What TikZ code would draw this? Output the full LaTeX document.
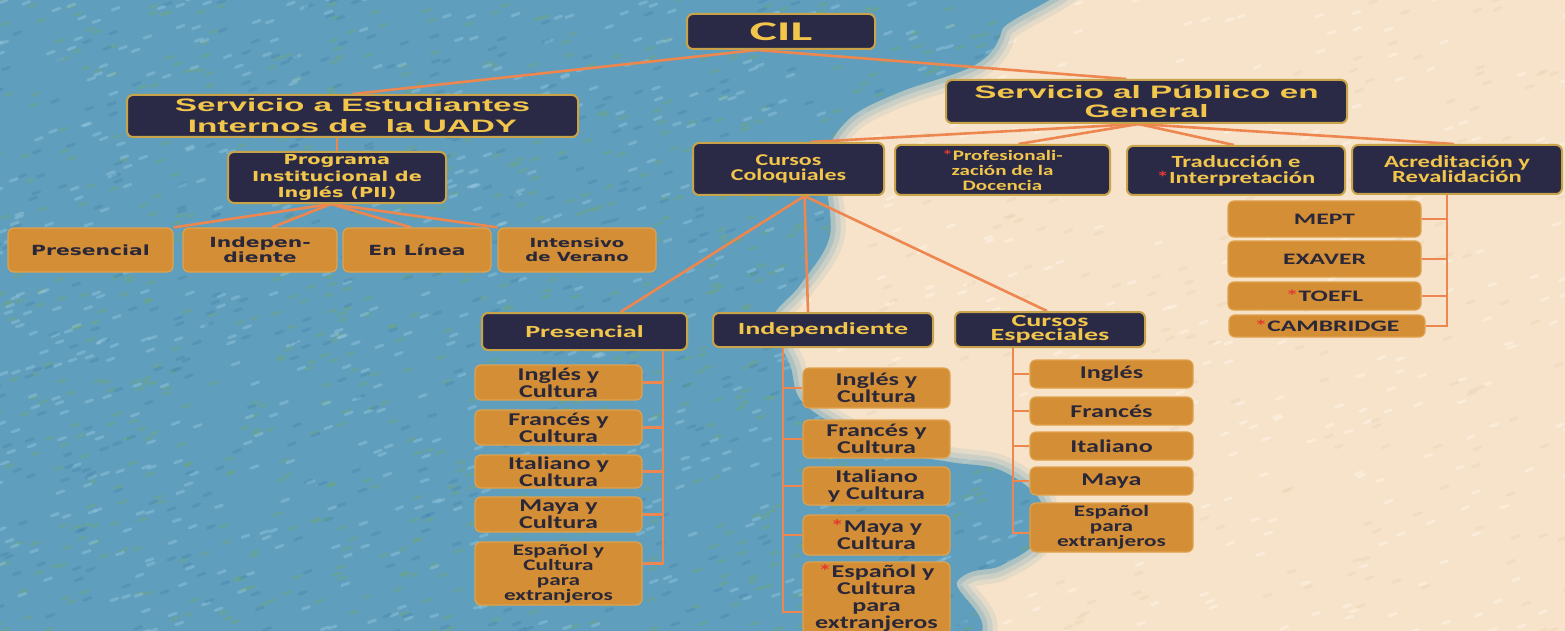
\documentclass[tikz,border=0pt]{standalone}
\usepackage{fontspec}
\setmainfont{Carlito}
\newfontfamily\hdrf[FakeStretch=1.85]{Liberation Sans}
\newfontfamily\cilf[FakeStretch=1.9]{Carlito}
\newfontfamily\piif[FakeStretch=1.4]{DejaVu Sans}
\newfontfamily\lvtwo[FakeStretch=1.45]{Carlito}
\newfontfamily\lvthree[FakeStretch=1.65]{Carlito}
\newfontfamily\orf[FakeStretch=1.45]{Carlito}
\newfontfamily\acf[FakeStretch=1.6]{Carlito}
\newfontfamily\lrow[FakeStretch=1.45]{DejaVu Sans}
\usetikzlibrary{calc}
\pgfdeclarelayer{back}
\pgfdeclarelayer{lines}
\pgfsetlayers{back,lines,main}
\definecolor{navy}{HTML}{2B2A46}
\definecolor{goldb}{HTML}{C9A349}
\definecolor{goldt}{HTML}{F2C64B}
\definecolor{orfill}{HTML}{D48E36}
\definecolor{ordraw}{HTML}{E0A24E}
\definecolor{ortext}{HTML}{2A2838}
\definecolor{linec}{HTML}{EE8650}
\definecolor{bluebg}{HTML}{5F9EBC}
\definecolor{greens}{HTML}{6FA878}
\definecolor{lightb}{HTML}{9CCBE2}
\definecolor{darkb}{HTML}{3F7FA8}
\definecolor{creambg}{HTML}{F6E3CA}
\definecolor{creaml}{HTML}{FFF5E6}
\definecolor{creamd}{HTML}{E8CDAA}
\definecolor{astred}{HTML}{E23A32}
\newcommand{\setfs}[2]{\fontsize{#1}{#2}\selectfont}
\newcommand{\rast}{\textcolor{astred}{*}}
\tikzset{
  navybox/.style={draw=goldb, line width=2pt, fill=navy, rounded corners=6pt,
    text=goldt, align=center, inner sep=0pt},
  orbox/.style={draw=ordraw, line width=1.2pt, fill=orfill, rounded corners=6pt,
    text=ortext, align=center, inner sep=0pt},
  conn/.style={draw=linec, line width=2.6pt},
  bsz/.style 2 args={minimum width=#1pt, minimum height=#2pt},
  hdr/.style={font=\hdrf\bfseries\setfs{18}{21}},
  lv2/.style={font=\lvtwo\bfseries\setfs{17}{16}},
  lv3/.style={font=\lvthree\bfseries\setfs{17}{14.5}},
  orA/.style={font=\orf\bfseries\setfs{18}{17}},
  orB/.style={font=\orf\bfseries\setfs{16}{15}},
  acc/.style={font=\acf\bfseries\setfs{16}{16}},
  lrw/.style={font=\lrow\bfseries\setfs{14}{15}},
  streak/.style={line width=3pt, line cap=round},
}
\begin{document}
\begin{tikzpicture}[x=1pt,y=-1pt]
\useasboundingbox (0,0) rectangle (1565,631);
% background
\begin{pgfonlayer}{back}
\begin{scope}
\clip (0,0) rectangle (1565,631);
\fill[creambg] (0,0) rectangle (1565,631);
\pgfmathsetseed{11}
\foreach \i in {1,...,700}{
  \pgfmathsetmacro{\rx}{rnd*1600-20}
  \pgfmathsetmacro{\ry}{rnd*660-15}
  \draw[streak, creaml, opacity=0.5] (\rx,\ry) -- ++(7,-2.5);
}
\foreach \i in {1,...,450}{
  \pgfmathsetmacro{\rx}{rnd*1600-20}
  \pgfmathsetmacro{\ry}{rnd*660-15}
  \draw[streak, creamd, opacity=0.3] (\rx,\ry) -- ++(7,-2.5);
}
\foreach \w/\o in {30/0.12, 20/0.18, 10/0.25}{
\draw[line width=\w pt, draw=bluebg, opacity=\o]
  plot[smooth cycle, tension=0.55] coordinates {(-50,-50) (1010,-50) (1002,30) (975,65) (900,92) (850,118) (825,160) (830,235) (800,285) (772,320) (790,365) (805,405) (880,448) (950,462) (1000,470) (1040,500) (1038,540) (1000,566) (958,580) (900,660) (-50,680)};
}
\fill[bluebg]
  plot[smooth cycle, tension=0.55] coordinates {(-50,-50) (1010,-50) (1002,30) (975,65) (900,92) (850,118) (825,160) (830,235) (800,285) (772,320) (790,365) (805,405) (880,448) (950,462) (1000,470) (1040,500) (1038,540) (1000,566) (958,580) (900,660) (-50,680)};
\begin{scope}
\clip plot[smooth cycle, tension=0.55] coordinates {(-50,-50) (1010,-50) (1002,30) (975,65) (900,92) (850,118) (825,160) (830,235) (800,285) (772,320) (790,365) (805,405) (880,448) (950,462) (1000,470) (1040,500) (1038,540) (1000,566) (958,580) (900,660) (-50,680)};
\foreach \i in {1,...,900}{
  \pgfmathsetmacro{\rx}{rnd*1060-20}
  \pgfmathsetmacro{\ry}{rnd*660-15}
  \draw[streak, greens, opacity=0.4] (\rx,\ry) -- ++(7,-2.5);
}
\foreach \i in {1,...,700}{
  \pgfmathsetmacro{\rx}{rnd*1060-20}
  \pgfmathsetmacro{\ry}{rnd*660-15}
  \draw[streak, lightb, opacity=0.4] (\rx,\ry) -- ++(7,-2.5);
}
\foreach \i in {1,...,500}{
  \pgfmathsetmacro{\rx}{rnd*1060-20}
  \pgfmathsetmacro{\ry}{rnd*660-15}
  \draw[streak, darkb, opacity=0.3] (\rx,\ry) -- ++(7,-2.5);
}
\end{scope}
\end{scope}
\end{pgfonlayer}

% nodes
\node[navybox, bsz={188}{35}, font=\cilf\bfseries\setfs{27}{27}] (cil) at (781,31.5) {CIL};
\node[navybox, hdr, bsz={451}{42}] (sea) at (352.5,116) {Servicio a Estudiantes\\Internos de\ \ la UADY};
\node[navybox, hdr, bsz={401}{43}, font=\hdrf\bfseries\setfs{18}{19.5}] (spg) at (1146.5,101.5) {Servicio al Público en\\General};
\node[navybox, bsz={218}{51}, font=\piif\bfseries\setfs{13.8}{16.3}] (pii) at (337,177.5) {Programa\\Institucional de\\Inglés (PII)};

\node[navybox, bsz={191}{52}, font=\lvtwo\bfseries\setfs{16.5}{15}] (cc) at (788.5,169) {Cursos\\Coloquiales};
\node[navybox, bsz={215}{50}, font=\lvtwo\bfseries\setfs{14.5}{15}] (pd) at (1002.5,170) {\rast Profesionali-\\zación de la\\Docencia};
\node[navybox, lv2, bsz={218}{49}] (ti) at (1236,170.5) {Traducción e\\\rast Interpretación};
\node[navybox, bsz={210}{49}, font=\lvtwo\bfseries\setfs{17}{15}] (ar) at (1457,169.5) {Acreditación y\\Revalidación};

\node[navybox, lv3, bsz={205}{37}] (pres) at (584.5,331.5) {Presencial};
\node[navybox, lv3, bsz={220}{34}] (indep) at (823,330) {Independiente};
\node[navybox, lv3, bsz={190}{35}] (ce) at (1050,329.5) {Cursos\\Especiales};

% left row
\node[orbox, lrw, bsz={165}{44}] (lp) at (90.5,250) {Presencial};
\node[orbox, lrw, bsz={154}{44}] (li) at (260,250) {Indepen-\\diente};
\node[orbox, lrw, bsz={148}{44}] (ll) at (417,250) {En Línea};
\node[orbox, bsz={158}{44}, font=\lrow\bfseries\setfs{12.5}{14}] (lv) at (577,250) {Intensivo\\de Verano};

% acreditation
\node[orbox, acc, bsz={193}{36}] (mept) at (1324.5,219) {MEPT};
\node[orbox, acc, bsz={193}{36}] (exaver) at (1324.5,259) {EXAVER};
\node[orbox, acc, bsz={193}{28}] (toefl) at (1324.5,296) {\rast TOEFL};
\node[orbox, acc, bsz={196}{22}] (camb) at (1327,326) {\rast CAMBRIDGE};

% presencial column
\node[orbox, orA, bsz={167}{35}] (p1) at (558.5,382.5) {Inglés y\\Cultura};
\node[orbox, orA, bsz={167}{35}] (p2) at (558.5,427.5) {Francés y\\Cultura};
\node[orbox, orA, bsz={167}{33}] (p3) at (558.5,471.5) {Italiano y\\Cultura};
\node[orbox, orA, bsz={167}{35}] (p4) at (558.5,514.5) {Maya y\\Cultura};
\node[orbox, orB, bsz={167}{63}] (p5) at (558.5,573.5) {Español y\\Cultura\\para\\extranjeros};

% independiente column
\node[orbox, orA, bsz={147}{40}] (i1) at (876.5,388) {Inglés y\\Cultura};
\node[orbox, orA, bsz={147}{38}] (i2) at (876.5,439) {Francés y\\Cultura};
\node[orbox, orA, bsz={147}{38}] (i3) at (876.5,486) {Italiano\\y Cultura};
\node[orbox, orA, bsz={147}{40}] (i4) at (876.5,535) {\rast Maya y\\Cultura};
\node[orbox, orA, bsz={147}{72}] (i5) at (876.5,598) {\rast Español y\\Cultura\\para\\extranjeros};

% cursos especiales column
\node[orbox, orA, bsz={163}{28}] (e1) at (1111.5,374) {Inglés};
\node[orbox, orA, bsz={163}{28}] (e2) at (1111.5,411) {Francés};
\node[orbox, orA, bsz={163}{28}] (e3) at (1111.5,446) {Italiano};
\node[orbox, orA, bsz={163}{28}] (e4) at (1111.5,481) {Maya};
\node[orbox, orB, bsz={163}{49}] (e5) at (1111.5,527.5) {Español\\para\\extranjeros};

% connectors (behind boxes)
\begin{pgfonlayer}{lines}
\coordinate (cilb) at ($(cil.south)+(-24,0)$);
\coordinate (piib) at ($(pii.south)+(-6,0)$);
\coordinate (spgb) at ($(spg.south)+(-8,0)$);
\coordinate (ccb) at ($(cc.south)+(16,0)$);
\coordinate (art) at ($(ar.south)+(-10,0)$);
\coordinate (prt) at ($(pres.south)+(78.5,0)$);
\coordinate (int) at ($(indep.south)+(-40,0)$);
\coordinate (cet) at ($(ce.south)+(-37,0)$);

\draw[conn] (cilb) -- (sea.north);
\draw[conn] (cilb) -- ($(spg.north)+(-20,0)$);
\draw[conn] (sea.south -| pii.north) -- (pii.north);
\draw[conn] (piib) -- (lp.north east);
\draw[conn] (piib) -- ($(li.north)+(12,0)$);
\draw[conn] (piib) -- ($(ll.north)+(-6,0)$);
\draw[conn] (piib) -- (lv.north west);

\draw[conn] (spgb) -- ($(cc.north)+(22,0)$);
\draw[conn] (spgb) -- ($(pd.north)+(16,0)$);
\draw[conn] (spgb) -- ($(ti.north)+(-2,0)$);
\draw[conn] (spgb) -- ($(ar.north)+(-3,0)$);

\draw[conn] (ccb) -- ($(pres.north)+(36,0)$);
\draw[conn] (ccb) -- ($(indep.north)+(-15,0)$);
\draw[conn] (ccb) -- ($(ce.north)+(-3,0)$);

\draw[conn] (art) |- (camb.east);
\foreach \n in {mept,exaver,toefl} \draw[conn] (\n.east) -- (\n.east -| art);

\draw[conn] (prt) |- ($(p5.east)+(0,-10)$);
\foreach \n in {p1,p2,p3,p4} \draw[conn] (\n.east) -- (\n.east -| prt);

\draw[conn] (int) |- ($(i5.west)+(0,14)$);
\foreach \n in {i1,i2,i3,i4} \draw[conn] (\n.west) -- (\n.west -| int);

\draw[conn] (cet) |- ($(e5.west)+(0,5.5)$);
\foreach \n in {e1,e2,e3,e4} \draw[conn] (\n.west) -- (\n.west -| cet);
\end{pgfonlayer}
\end{tikzpicture}
\end{document}
